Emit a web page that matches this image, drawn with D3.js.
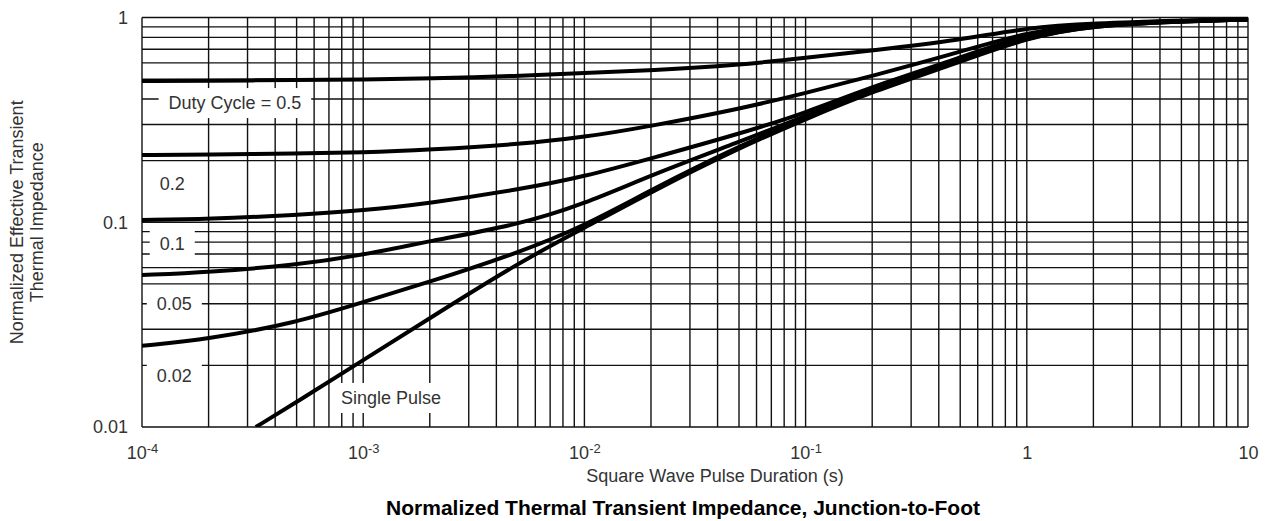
<!DOCTYPE html>
<html>
<head>
<meta charset="utf-8">
<script src="https://cdn.jsdelivr.net/npm/d3@7"></script>
<style>
  body { margin: 0; background: #fff; }
  text { font-family: "Liberation Sans", Arial, sans-serif; }
</style>
</head>
<body>
<div id="chart"></div>
<script>

// pulse durations (s) where the curves were read
var pulseTimes = [1e-4, 2e-4, 5e-4, 1e-3, 2e-3, 5e-3, 1e-2, 2e-2, 5e-2, 0.1, 0.2, 0.5, 1, 2, 5, 10];

// normalized effective transient thermal impedance per duty cycle
var duty05 = [0.49, 0.491, 0.495, 0.498, 0.504, 0.518, 0.536, 0.551, 0.586, 0.635, 0.69, 0.776, 0.892, 0.937, 0.967, 0.983];
var duty02 = [0.213, 0.214, 0.217, 0.219, 0.226, 0.24, 0.26, 0.295, 0.357, 0.428, 0.518, 0.678, 0.85, 0.93, 0.964, 0.979];
var duty01 = [0.1026, 0.1037, 0.1085, 0.114, 0.124, 0.144, 0.167, 0.205, 0.27, 0.342, 0.46, 0.634, 0.835, 0.924, 0.962, 0.978];
var duty005 = [0.0552, 0.0571, 0.0618, 0.0692, 0.081, 0.097, 0.1228, 0.17, 0.2466, 0.33, 0.45, 0.62, 0.812, 0.919, 0.958, 0.978];
var duty002 = [0.0249, 0.0269, 0.0323, 0.0408, 0.0511, 0.0708, 0.0959, 0.144, 0.2357, 0.323, 0.44, 0.613, 0.803, 0.914, 0.956, 0.978];

// single pulse starts where it leaves the bottom of the chart
var singleTimes = [3.27e-4, 5e-4, 1e-3, 2e-3, 5e-3, 1e-2, 2e-2, 5e-2, 0.1, 0.2, 0.5, 1, 2, 5, 10];
var singlePulse = [0.01, 0.01324, 0.0212, 0.034, 0.0632, 0.0938, 0.1406, 0.2306, 0.319, 0.435, 0.606, 0.798, 0.914, 0.956, 0.978];

// curve labels: text and where they sit (t, Zth)
var labelText = ["Duty Cycle = 0.5", "0.2", "0.1", "0.05", "0.02", "Single Pulse"];
var labelT = [2.63e-4, 1.37e-4, 1.37e-4, 1.4e-4, 1.4e-4, 1.336e-3];
var labelZ = [0.382, 0.154, 0.0783, 0.0399, 0.01775, 0.01386];

// tick labels
var xTickValues = [1e-4, 1e-3, 1e-2, 1e-1, 1, 10];
var xTickBase = ["10", "10", "10", "10", "1", "10"];
var xTickSup = ["-4", "-3", "-2", "-1", "", ""];
var yTickValues = [0.01, 0.1, 1];
var yTickLabels = ["0.01", "0.1", "1"];

var svgWidth = 1267;
var svgHeight = 521;

var margin = { top: 17.5, right: 19, bottom: 94, left: 142 };
var width = svgWidth - margin.left - margin.right;
var height = svgHeight - margin.top - margin.bottom;

var svg = d3.select("#chart")
    .append("svg")
    .attr("width", svgWidth)
    .attr("height", svgHeight);

var chartGroup = svg.append("g")
    .attr("transform", `translate(${margin.left}, ${margin.top})`);

// log scales
var xScale = d3.scaleLog().domain([1e-4, 10]).range([0, width]);
var yScale = d3.scaleLog().domain([0.01, 1]).range([height, 0]);

// grid lines at every minor tick
chartGroup.append("g")
    .selectAll("line")
    .data(xScale.ticks())
    .enter()
    .append("line")
    .attr("x1", d => xScale(d))
    .attr("x2", d => xScale(d))
    .attr("y1", 0)
    .attr("y2", height)
    .attr("stroke", "#111")
    .attr("stroke-width", 1.4);

chartGroup.append("g")
    .selectAll("line")
    .data(yScale.ticks())
    .enter()
    .append("line")
    .attr("x1", 0)
    .attr("x2", width)
    .attr("y1", d => yScale(d))
    .attr("y2", d => yScale(d))
    .attr("stroke", "#111")
    .attr("stroke-width", 1.4);

// axes (labels only)
var yAxis = d3.axisLeft(yScale)
    .tickValues(yTickValues)
    .tickSize(0)
    .tickPadding(14)
    .tickFormat((d, i) => yTickLabels[i]);

var yAxisGroup = chartGroup.append("g").call(yAxis);
yAxisGroup.select(".domain").remove();
yAxisGroup.selectAll("text")
    .attr("font-size", "18px")
    .attr("font-family", "Liberation Sans, Arial, sans-serif")
    .attr("fill", "#333");

var xAxis = d3.axisBottom(xScale)
    .tickValues(xTickValues)
    .tickSize(0)
    .tickPadding(19)
    .tickFormat("");

var xAxisGroup = chartGroup.append("g")
    .attr("transform", `translate(0, ${height})`)
    .call(xAxis);
xAxisGroup.select(".domain").remove();

xAxisGroup.selectAll("text").each(function(d, i) {
    var t = d3.select(this)
        .attr("font-size", "18px")
        .attr("font-family", "Liberation Sans, Arial, sans-serif")
        .attr("fill", "#333");
    t.append("tspan").text(xTickBase[i]);
    if (xTickSup[i]) {
        t.append("tspan")
            .attr("font-size", "13px")
            .attr("dy", "-6")
            .text(xTickSup[i]);
    }
});

// label boxes hide the grid behind them
var labelGroup = chartGroup.append("g");
labelText.forEach(function(txt, i) {
    var g = labelGroup.append("g");
    var rect = g.append("rect").attr("fill", "#fff");
    var t = g.append("text")
        .attr("x", xScale(labelT[i]))
        .attr("y", yScale(labelZ[i]))
        .attr("text-anchor", "middle")
        .attr("dominant-baseline", "central")
        .attr("font-size", "18px")
        .attr("fill", "#333")
        .text(txt);
    var bb = t.node().getBBox();
    rect.attr("x", bb.x - 10)
        .attr("y", bb.y - 5)
        .attr("width", bb.width + 20)
        .attr("height", bb.height + 10);
});

// clip curves to the plot frame
svg.append("clipPath")
    .attr("id", "plotClip")
    .append("rect")
    .attr("width", width)
    .attr("height", height);

var line = d3.line()
    .x(d => xScale(d[0]))
    .y(d => yScale(d[1]))
    .curve(d3.curveBasis);

var curves = [duty05, duty02, duty01, duty005, duty002].map(vals => pulseTimes.map((t, i) => [t, vals[i]]));
curves.push(singleTimes.map((t, i) => [t, singlePulse[i]]));

chartGroup.append("g")
    .attr("clip-path", "url(#plotClip)")
    .selectAll("path")
    .data(curves)
    .enter()
    .append("path")
    .attr("d", line)
    .attr("fill", "none")
    .attr("stroke", "#000")
    .attr("stroke-width", 4);

// axis titles
svg.append("text")
    .attr("x", 715)
    .attr("y", 482)
    .attr("text-anchor", "middle")
    .attr("font-size", "18px")
    .attr("fill", "#333")
    .text("Square Wave Pulse Duration (s)");

svg.append("text")
    .attr("x", 683)
    .attr("y", 515)
    .attr("text-anchor", "middle")
    .attr("font-size", "21px")
    .attr("font-weight", "bold")
    .attr("fill", "#000")
    .text("Normalized Thermal Transient Impedance, Junction-to-Foot");

var yTitle = svg.append("text")
    .attr("transform", `translate(0, ${margin.top + height / 2}) rotate(-90)`)
    .attr("text-anchor", "middle")
    .attr("font-size", "18px")
    .attr("fill", "#333");
yTitle.append("tspan").attr("x", 0).attr("y", 23).text("Normalized Effective Transient");
yTitle.append("tspan").attr("x", 0).attr("y", 43).text("Thermal Impedance");

</script>
</body>
</html>
